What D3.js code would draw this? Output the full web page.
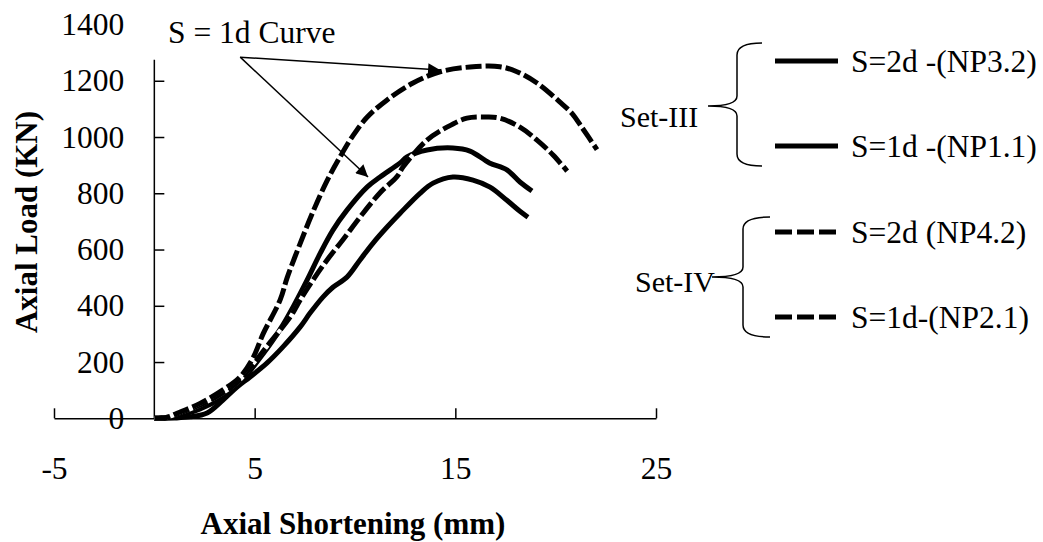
<!DOCTYPE html>
<html>
<head>
<meta charset="utf-8">
<script src="https://cdn.jsdelivr.net/npm/d3@7/dist/d3.min.js"></script>
<style>
  body { margin: 0; background: #fff; }
  svg text { font-family: "Liberation Serif", "Times New Roman", serif; fill: #000; }
</style>
</head>
<body>
<div id="axial-load-chart"></div>
<script>
'use strict';

// values: [shortening (mm), load (KN)]
var xTicks = [-5, 5, 15, 25];
var yTicks = [0, 200, 400, 600, 800, 1000, 1200, 1400];

var np32 = [[0, 0], [1, 1], [1.78, 5], [2.63, 19], [3.42, 65], [4.12, 111], [4.77, 147], [5.62, 197],
    [6.41, 254], [7.27, 325], [7.76, 374], [8.4, 431], [8.9, 466], [9.6, 502], [10.25, 563],
    [10.9, 623], [11.6, 680], [12.25, 729], [13.24, 800], [13.89, 836], [14.88, 858],
    [15.88, 847], [16.73, 822], [17.57, 775], [18.22, 736], [18.62, 715]];

var np11 = [[0, 0], [0.6, 2], [1.13, 8], [2.28, 33], [3.42, 76], [4.27, 125], [5.0, 190], [5.75, 261],
    [6.41, 332], [6.91, 395], [7.61, 491], [8.27, 587], [8.9, 669], [9.6, 740], [10.6, 822],
    [11.25, 858], [12.25, 908], [12.59, 929], [13.59, 954], [14.88, 961], [15.73, 950],
    [16.7, 908], [17.57, 883], [18.22, 840], [18.82, 808]];

var np42 = [[0, 0], [0.6, 3], [1.13, 15], [2.28, 47], [3.42, 90], [4.27, 136], [5.0, 200], [5.75, 268],
    [6.78, 361], [7.27, 421], [7.91, 492], [8.61, 563], [9.4, 635], [10.26, 716], [11.25, 802],
    [12.09, 859], [12.4, 894], [13.59, 989], [14.58, 1035], [15.58, 1067], [16.58, 1071],
    [17.22, 1067], [18.22, 1035], [19.07, 989], [19.87, 936], [20.57, 879]];

var np21 = [[0, 0], [0.6, 3], [1.13, 18], [2.28, 53], [3.42, 101], [4.27, 147], [4.92, 215], [5.42, 300],
    [6.27, 421], [6.62, 500], [7.27, 622], [7.91, 735], [8.61, 845], [9.3, 935], [9.9, 1005],
    [10.6, 1070], [11.6, 1132], [12.89, 1192], [14.24, 1232], [15.73, 1249], [17.22, 1250],
    [18.07, 1232], [19.07, 1192], [20.2, 1125], [20.8, 1085], [21.3, 1035], [22.06, 955]];

var seriesLabels = ['S=2d -(NP3.2)', 'S=1d -(NP1.1)', 'S=2d (NP4.2)', 'S=1d-(NP2.1)'];
var seriesDashed = [false, false, true, true];
var setLabels = ['Set-III', 'Set-IV'];

var noteText = 'S = 1d Curve';
var noteFrom = [4.28, 1284];
var noteTo = [[14.24, 1238], [10.65, 858]];

var chartAxialLoad = (function() {

    var init = function() {
        var width = 1043,
            height = 542;

        var svg = d3.select('#axial-load-chart').append('svg')
            .attr('width', width)
            .attr('height', height);

        var x = d3.scaleLinear().domain([-5, 25]).range([54, 656]);
        var y = d3.scaleLinear().domain([0, 1400]).range([418.3, 24.5]);

        var line = d3.line()
            .x(function(d) { return x(d[0]); })
            .y(function(d) { return y(d[1]); })
            .curve(d3.curveCatmullRom.alpha(0.5));

        var plain = function(d) { return String(d); };

        // axes
        var xAxis = svg.append('g')
            .attr('transform', 'translate(0,' + y(0) + ')')
            .call(d3.axisBottom(x).tickValues(xTicks).tickFormat(plain)
                .tickSizeInner(-10).tickSizeOuter(0).tickPadding(38));

        var yAxis = svg.append('g')
            .attr('transform', 'translate(' + x(0) + ',0)')
            .call(d3.axisLeft(y).tickValues(yTicks).tickFormat(plain)
                .tickSizeInner(-10).tickSizeOuter(0).tickPadding(30));

        yAxis.select('.domain').remove();
        yAxis.selectAll('.tick').filter(function(d) { return d === 1400; }).select('line').remove();
        yAxis.append('line')
            .attr('x1', 0).attr('x2', 0)
            .attr('y1', y(0)).attr('y2', y(1275))
            .attr('stroke', '#000').attr('stroke-width', 1.5);

        [xAxis, yAxis].forEach(function(g) {
            g.selectAll('line, path').attr('stroke', '#000').attr('stroke-width', 1.5);
            g.selectAll('text')
                .style('font-size', '31.5px')
                .style('font-family', '"Liberation Serif", "Times New Roman", serif')
                .attr('fill', '#000');
        });

        svg.append('text')
            .attr('x', 353)
            .attr('y', 534)
            .attr('text-anchor', 'middle')
            .style('font-size', '31px')
            .style('font-weight', 'bold')
            .text('Axial Shortening (mm)');

        svg.append('text')
            .attr('transform', 'translate(37,222) rotate(-90)')
            .attr('text-anchor', 'middle')
            .style('font-size', '31px')
            .style('font-weight', 'bold')
            .text('Axial Load (KN)');

        // curves: solid ones first, dashed on top with a white under-stroke
        var series = [np32, np11, np42, np21];
        series.forEach(function(data, i) {
            if (seriesDashed[i]) {
                svg.append('path')
                    .attr('d', line(data))
                    .attr('fill', 'none')
                    .attr('stroke', '#fff')
                    .attr('stroke-width', 4);
            }
            svg.append('path')
                .attr('d', line(data))
                .attr('fill', 'none')
                .attr('stroke', '#000')
                .attr('stroke-width', 5)
                .attr('stroke-dasharray', seriesDashed[i] ? '16,4' : null)
                .attr('stroke-linejoin', 'round');
        });

        // annotation arrows
        var defs = svg.append('defs');
        defs.append('marker')
            .attr('id', 'arrow')
            .attr('viewBox', '0 0 10 10')
            .attr('refX', 10).attr('refY', 5)
            .attr('markerWidth', 16).attr('markerHeight', 12)
            .attr('markerUnits', 'userSpaceOnUse')
            .attr('orient', 'auto')
            .append('path')
            .attr('d', 'M0,0 L10,5 L0,10 Z')
            .attr('fill', '#000');

        noteTo.forEach(function(t) {
            svg.append('line')
                .attr('x1', x(noteFrom[0])).attr('y1', y(noteFrom[1]))
                .attr('x2', x(t[0])).attr('y2', y(t[1]))
                .attr('stroke', '#000')
                .attr('stroke-width', 1.5)
                .attr('marker-end', 'url(#arrow)');
        });

        svg.append('text')
            .attr('x', 168)
            .attr('y', 43)
            .style('font-size', '31.5px')
            .text(noteText);

        // legend with braces
        var legendRows = [61, 146, 232, 317];
        var legend = svg.append('g');

        seriesLabels.forEach(function(label, i) {
            legend.append('line')
                .attr('x1', 775).attr('x2', 838)
                .attr('y1', legendRows[i]).attr('y2', legendRows[i])
                .attr('stroke', '#000')
                .attr('stroke-width', 5)
                .attr('stroke-dasharray', seriesDashed[i] ? '17,5' : null);
            legend.append('text')
                .attr('x', 851)
                .attr('y', legendRows[i] + 11)
                .style('font-size', '31.5px')
                .text(label);
        });

        var brace = function(xr, xs, xt, y0, ym, y1) {
            var r = 12;
            return 'M' + xr + ',' + y0 +
                ' Q' + xs + ',' + y0 + ' ' + xs + ',' + (y0 + r) +
                ' L' + xs + ',' + (ym - 10) +
                ' Q' + xs + ',' + ym + ' ' + xt + ',' + ym +
                ' Q' + xs + ',' + ym + ' ' + xs + ',' + (ym + 10) +
                ' L' + xs + ',' + (y1 - r) +
                ' Q' + xs + ',' + y1 + ' ' + xr + ',' + y1;
        };

        legend.append('path')
            .attr('d', brace(762, 737, 708, 43, 106, 166))
            .attr('fill', 'none').attr('stroke', '#000').attr('stroke-width', 1.5);
        legend.append('path')
            .attr('d', brace(770, 743, 712, 217, 277, 337))
            .attr('fill', 'none').attr('stroke', '#000').attr('stroke-width', 1.5);

        legend.append('text').attr('x', 620).attr('y', 127).style('font-size', '30px').text(setLabels[0]);
        legend.append('text').attr('x', 635).attr('y', 292).style('font-size', '30px').text(setLabels[1]);
    };

    return {
        init: init
    };
})();

chartAxialLoad.init();
</script>
</body>
</html>
